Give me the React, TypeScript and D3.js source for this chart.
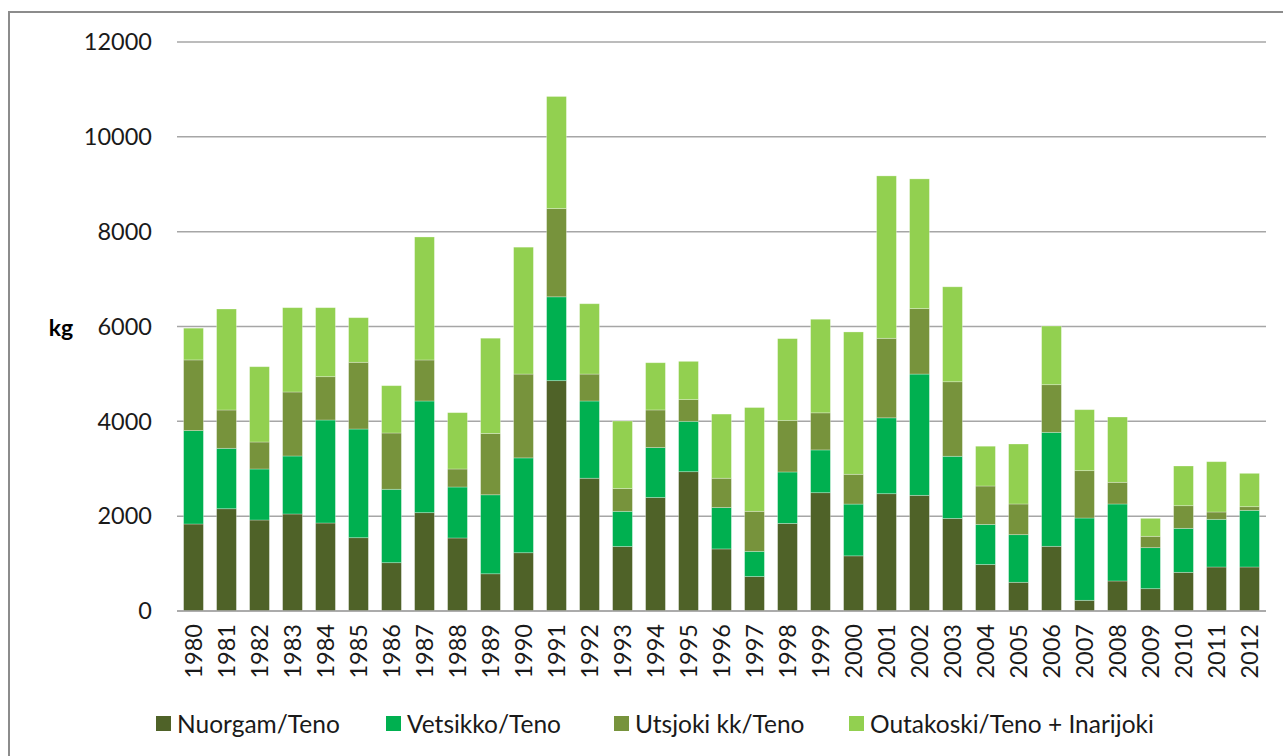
import React, { useRef, useEffect } from 'react';
import * as d3 from 'd3';

const years = ['1980', '1981', '1982', '1983', '1984', '1985', '1986', '1987', '1988', '1989', '1990',
  '1991', '1992', '1993', '1994', '1995', '1996', '1997', '1998', '1999', '2000', '2001', '2002',
  '2003', '2004', '2005', '2006', '2007', '2008', '2009', '2010', '2011', '2012'];

const seriesNames = ['Nuorgam/Teno', 'Vetsikko/Teno', 'Utsjoki kk/Teno', 'Outakoski/Teno + Inarijoki'];

const nuorgam = [1835, 2157, 1919, 2046, 1856, 1546, 1019, 2074, 1540, 785, 1229, 4858, 2800, 1360, 2393,
  2938, 1309, 727, 1847, 2495, 1163, 2474, 2439, 1952, 980, 605, 1364, 225, 633, 471, 815, 928, 928];
const vetsikko = [1970, 1274, 1076, 1223, 2172, 2292, 1548, 2355, 1075, 1666, 2000, 1768, 1629, 742, 1054,
  1062, 873, 531, 1085, 902, 1092, 1600, 2558, 1311, 845, 1005, 2404, 1736, 1624, 865, 928, 1005, 1195];
const utsjoki = [1490, 808, 569, 1350, 914, 1407, 1187, 865, 380, 1294, 1768, 1861, 568, 480, 793,
  458, 618, 844, 1085, 782, 628, 1677, 1381, 1572, 811, 647, 1005, 999, 457, 239, 478, 155, 77];
const outakoski = [670, 2130, 1588, 1778, 1455, 941, 998, 2594, 1188, 2008, 2676, 2364, 1483, 1425, 996,
  807, 1353, 2189, 1727, 1974, 3002, 3425, 2735, 2002, 839, 1265, 1237, 1286, 1377, 379, 837, 1061, 703];

const yTicks = [0, 2000, 4000, 6000, 8000, 10000, 12000];
const colors = ['#4f6228', '#00b050', '#77933c', '#92d050'];

const App = () => {
  const ref = useRef<SVGSVGElement | null>(null);

  useEffect(() => {
    if (!ref.current) return;
    const svg = d3.select(ref.current);
    svg.selectAll('*').remove();

    const font = 'Lato, "Open Sans", sans-serif';
    const left = 177, right = 1266, top = 42, bottom = 611;

    // chart frame
    svg.append('rect')
      .attr('x', 9).attr('y', 12).attr('width', 1300).attr('height', 800)
      .attr('fill', '#fff').attr('stroke', '#8c8c8c').attr('stroke-width', 2);

    const table = years.map((y, i) => ({
      year: y,
      [seriesNames[0]]: nuorgam[i],
      [seriesNames[1]]: vetsikko[i],
      [seriesNames[2]]: utsjoki[i],
      [seriesNames[3]]: outakoski[i],
    }));

    const x = d3.scaleBand().domain(years).range([left, right]).paddingInner(0.4).paddingOuter(0.2);
    const y = d3.scaleLinear().domain([0, 12000]).range([bottom, top]);

    // grid + y labels
    svg.append('g')
      .selectAll('line')
      .data(yTicks)
      .join('line')
      .attr('x1', left).attr('x2', right)
      .attr('y1', d => y(d)).attr('y2', d => y(d))
      .attr('stroke', '#a6a6a6').attr('stroke-width', 1.5);

    svg.append('g')
      .selectAll('text')
      .data(yTicks)
      .join('text')
      .attr('x', 152).attr('y', d => y(d))
      .attr('dy', '0.35em')
      .attr('text-anchor', 'end')
      .attr('font-family', font).attr('font-size', 23.5).attr('fill', '#1a1a1a')
      .text(d => String(d));

    svg.append('text')
      .attr('x', 61).attr('y', 328).attr('dy', '0.35em')
      .attr('text-anchor', 'middle')
      .attr('font-family', font).attr('font-size', 23).attr('font-weight', 'bold')
      .text('kg');

    const stack = d3.stack<any>().keys(seriesNames)(table as any);

    svg.append('g')
      .selectAll('g')
      .data(stack)
      .join('g')
      .attr('fill', (_, i) => colors[i])
      .selectAll('rect')
      .data(d => d)
      .join('rect')
      .attr('x', d => x(d.data.year)!)
      .attr('width', x.bandwidth())
      .attr('y', d => y(d[1]))
      .attr('height', d => y(d[0]) - y(d[1]))
      .attr('stroke', '#ffffff').attr('stroke-opacity', 0.35).attr('stroke-width', 0.8);

    // baseline
    svg.append('line')
      .attr('x1', left).attr('x2', right).attr('y1', y(0)).attr('y2', y(0))
      .attr('stroke', '#a6a6a6').attr('stroke-width', 1.5);

    // x labels
    svg.append('g')
      .selectAll('text')
      .data(years)
      .join('text')
      .attr('transform', d => `translate(${x(d)! + x.bandwidth() / 2},${624}) rotate(-90)`)
      .attr('dy', '0.35em')
      .attr('text-anchor', 'end')
      .attr('font-family', font).attr('font-size', 23.5).attr('fill', '#1a1a1a')
      .text(d => d);

    // legend
    const legendX = [156, 386, 614, 849];
    const lg = svg.append('g')
      .selectAll('g')
      .data(seriesNames)
      .join('g')
      .attr('transform', (_, i) => `translate(${legendX[i]},${724})`);
    lg.append('rect')
      .attr('x', 0).attr('y', -8).attr('width', 15).attr('height', 15)
      .attr('fill', (_, i) => colors[i]);
    lg.append('text')
      .attr('x', 21).attr('dy', '0.35em')
      .attr('font-family', font).attr('font-size', 24.5).attr('fill', '#1a1a1a')
      .text(d => d);
  }, []);

  return <svg ref={ref} width={1283} height={756} style={{ position: 'absolute', left: 0, top: 0 }} />;
};

export default App;
